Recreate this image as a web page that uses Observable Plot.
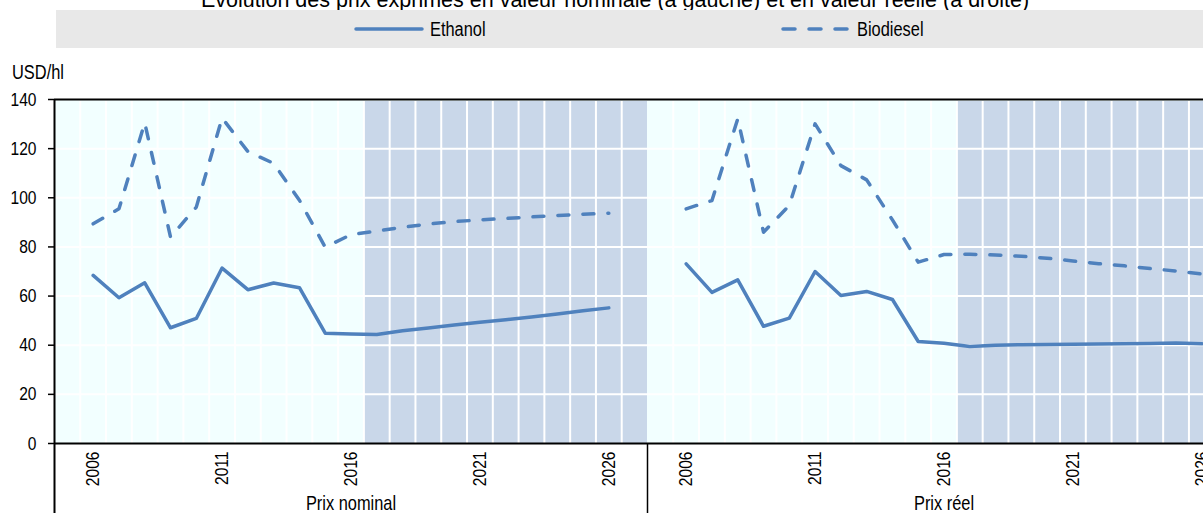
<!DOCTYPE html>
<html><head><meta charset="utf-8">
<script src="https://cdn.jsdelivr.net/npm/d3@7"></script>
<script src="https://cdn.jsdelivr.net/npm/@observablehq/plot@0.6"></script>
<style>
html,body{margin:0;padding:0;background:#fff;overflow:hidden;width:1203px;height:513px}
#wrap{position:relative;width:1240px;height:513px;font-family:"Liberation Sans",Arial,sans-serif;color:#000}
#title{position:absolute;left:0;width:1230px;top:-12px;text-align:center;font-size:21.5px;line-height:24px;white-space:nowrap}
#legend{position:absolute;left:56px;top:10px;width:1184px;height:38px;background:#e8e8e8}
.item{position:absolute;top:10px;height:38px;display:flex;align-items:center;font-size:20px;white-space:nowrap}
.item svg{margin-right:6px}
.nar{display:inline-block;transform:scaleX(0.82);transform-origin:left center}
#ylab{position:absolute;left:12px;top:61px;font-size:20px;line-height:23px}
#chart{position:absolute;left:0;top:50px}
</style></head>
<body>
<div id="wrap">
  <div id="title">Évolution des prix exprimés en valeur nominale (à gauche) et en valeur réelle (à droite)</div>
  <div id="legend"></div>
  <div class="item" style="left:354px"><svg width="70" height="6"><line x1="2" y1="3" x2="68" y2="3" stroke="#4F81BD" stroke-width="3.5" stroke-linecap="round"/></svg><span class="nar">Ethanol</span></div>
  <div class="item" style="left:781px"><svg width="70" height="6"><line x1="2" y1="3" x2="68" y2="3" stroke="#4F81BD" stroke-width="3.5" stroke-linecap="round" stroke-dasharray="12,14"/></svg><span class="nar">Biodiesel</span></div>
  <div id="ylab"><span class="nar">USD/hl</span></div>
  <div id="chart"></div>
</div>
<script>
const panels = ["Prix nominal", "Prix réel"];
const years = [2006,2007,2008,2009,2010,2011,2012,2013,2014,2015,2016,2017,2018,2019,2020,2021,2022,2023,2024,2025,2026];
const nominalEthanol   = [68.4,59.3,65.4,47.1,50.9,71.4,62.6,65.3,63.4,44.9,44.6,44.4,45.9,47.0,48.2,49.3,50.4,51.5,52.7,54.0,55.2];
const nominalBiodiesel = [89.4,95.5,130.5,84.0,96.2,132.5,118.8,114.0,99.0,79.9,85.0,86.5,88.0,89.3,90.3,91.0,91.6,92.2,92.8,93.3,93.7];
const realEthanol      = [73.1,61.5,66.6,47.7,51.0,70.0,60.2,61.9,58.6,41.5,40.8,39.5,40.0,40.2,40.3,40.4,40.5,40.6,40.7,40.9,40.6];
const realBiodiesel    = [95.5,98.9,132.1,86.0,96.9,130.1,113.1,107.3,91.0,73.8,76.9,77.0,76.7,76.2,75.4,74.3,73.2,72.3,71.2,70.2,69.0];
const yTicks = [0,20,40,60,80,100,120,140];
const xTicks = [2006,2011,2016,2021,2026];
const firstProjectionYear = 2017;
const xStart = 2004.5, xEnd = 2027.5;

const rows = [];
years.forEach((yr,i) => {
  rows.push({panel: panels[0], series: "Ethanol", year: yr, value: nominalEthanol[i]});
  rows.push({panel: panels[0], series: "Biodiesel", year: yr, value: nominalBiodiesel[i]});
  rows.push({panel: panels[1], series: "Ethanol", year: yr, value: realEthanol[i]});
  rows.push({panel: panels[1], series: "Biodiesel", year: yr, value: realBiodiesel[i]});
});
const panelRows = panels.map(p => ({panel: p}));
const edges = [];
panels.forEach(p => { for (let e = xStart + 1; e < xEnd; e++) edges.push({panel: p, x: e}); });
const hGrid = [];
panels.forEach(p => yTicks.slice(1, -1).forEach(v => hGrid.push({panel: p, y: v})));

const blue = "#4F81BD";
const chart = Plot.plot({
  width: 1240, height: 463,
  marginTop: 49, marginBottom: 70, marginLeft: 54, marginRight: 0,
  style: {fontFamily: '"Liberation Sans",Arial,sans-serif', fontSize: "19px", background: "transparent", maxWidth: "none", overflow: "visible", color: "#000"},
  fx: {domain: panels, padding: 0, label: null},
  x: {domain: [xStart, xEnd], label: null},
  y: {domain: [0, 140], label: null},
  marks: [
    Plot.rect(panelRows, {fx: "panel", x1: xStart, x2: xEnd, y1: 0, y2: 140, fill: "#F2FFFF"}),
    Plot.rect(panelRows, {fx: "panel", x1: firstProjectionYear - 0.5, x2: xEnd, y1: 0, y2: 139.2, fill: "#C9D7E9"}),
    Plot.ruleX(edges, {fx: "panel", x: "x", y1: 0, y2: 139.2, stroke: "#fff", strokeWidth: 2}),
    Plot.ruleY(hGrid, {fx: "panel", y: "y", stroke: "#fff", strokeWidth: 2}),
    Plot.line(rows.filter(d => d.series === "Ethanol"), {fx: "panel", x: "year", y: "value", stroke: blue, strokeWidth: 3.5, strokeLinejoin: "round"}),
    Plot.line(rows.filter(d => d.series === "Biodiesel"), {fx: "panel", x: "year", y: "value", stroke: blue, strokeWidth: 3.5, strokeDasharray: "11,14", strokeLinecap: "round", strokeLinejoin: "round"}),
    Plot.ruleY(panelRows, {fx: "panel", y: 0, stroke: "#000", strokeWidth: 2}),
    Plot.ruleY(panelRows, {fx: "panel", y: 140, stroke: "#000", strokeWidth: 2}),
    Plot.ruleX([{panel: panels[0]}], {fx: "panel", x: xStart, y1: -28.5, y2: 140, stroke: "#000", strokeWidth: 2}),
    Plot.ruleX(panelRows, {fx: "panel", x: xEnd, y1: -28.5, y2: 0, stroke: "#000", strokeWidth: 1.5}),
    Plot.axisY({ticks: yTicks, tickSize: 6, tickPadding: 12, tickFormat: d => String(d), label: null, strokeWidth: 1.5}),
    Plot.axisX({ticks: xTicks, tickRotate: -90, tickSize: 0, tickPadding: 8, tickFormat: d => String(d), label: null}),
    Plot.axisFx({anchor: "bottom", tickSize: 0, tickPadding: 52, label: null, fontSize: 20})
  ]
});
// Narrow the glyphs (Arial Narrow look) without moving the text anchors
const SX = 0.82;
function unscale(v) {
  const m = /^(-?[\d.]+)(.*)$/.exec(v.trim());
  return m ? (parseFloat(m[1]) / SX) + m[2] : v;
}
chart.querySelectorAll("text, tspan").forEach(el => {
  ["x", "dx"].forEach(a => { const v = el.getAttribute(a); if (v != null && v !== "") el.setAttribute(a, unscale(v)); });
  if (el.tagName.toLowerCase() === "text") {
    const t = el.getAttribute("transform") || "";
    el.setAttribute("transform", (t + " scale(" + SX + ",1)").trim());
  }
});
document.getElementById("chart").appendChild(chart);
</script>
</body></html>
